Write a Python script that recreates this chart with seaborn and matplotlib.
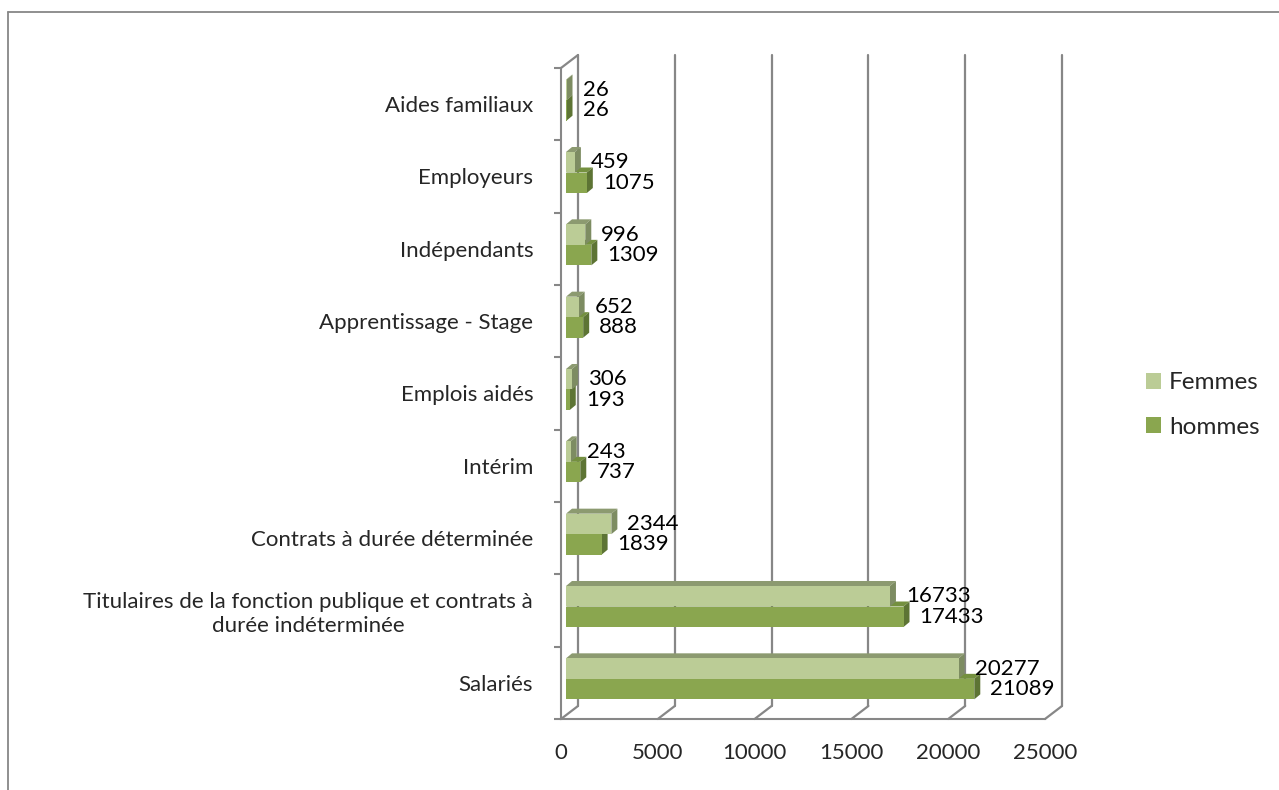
import matplotlib
matplotlib.use("Agg")
import matplotlib.pyplot as plt
import seaborn as sns
import pandas as pd
import numpy as np
from matplotlib.patches import Polygon, Patch
from matplotlib.lines import Line2D
from matplotlib.transforms import IdentityTransform, ScaledTranslation

# ---- data -------------------------------------------------------------
categories = [
    "Aides familiaux",
    "Employeurs",
    "Indépendants",
    "Apprentissage - Stage",
    "Emplois aidés",
    "Intérim",
    "Contrats à durée déterminée",
    "Titulaires de la fonction publique et contrats à\ndurée indéterminée",
    "Salariés",
]
femmes = [26, 459, 996, 652, 306, 243, 2344, 16733, 20277]
hommes = [26, 1075, 1309, 888, 193, 737, 1839, 17433, 21089]
series = ["Femmes", "hommes"]
x_ticks = [0, 5000, 10000, 15000, 20000, 25000]

# ---- style ------------------------------------------------------------
W, H = 1279, 790
sns.set_style("white")
plt.rcParams["font.family"] = ["Lato", "DejaVu Sans"]
FS = 16
FS_LEG = 17.5
GRID = "#878787"

F_FRONT, F_TOP, F_SIDE = "#BBCC96", "#8C9A70", "#7D8C62"
H_FRONT, H_TOP, H_SIDE = "#8AA64F", "#74903F", "#5D7434"

BAR_SHIFT = (5, 4)      # bars sit slightly behind the front plane (px)
BAR_DEPTH = (6, 5)      # extrusion of each bar (px)
WALL_DEPTH = (17, 13)   # back wall offset (px)

fig = plt.figure(figsize=(W / 100, H / 100), dpi=100)
ax = fig.add_axes([561 / W, (H - 719) / H, (1045 - 561) / W, (719 - 68) / H])

df = pd.DataFrame({
    "categorie": categories * 2,
    "valeur": femmes + hommes,
    "serie": [series[0]] * len(categories) + [series[1]] * len(categories),
})

sns.barplot(data=df, y="categorie", x="valeur", hue="serie", hue_order=series,
            order=categories, orient="h", width=0.567, palette=[F_FRONT, H_FRONT],
            saturation=1, linewidth=0, legend=False, ax=ax)

ax.set_xlim(0, 25000)
ax.set_ylim(len(categories) - 0.5, -0.5)
ax.set_xlabel("")
ax.set_ylabel("")
ax.set_xticks(x_ticks)
ax.set_xticklabels([str(v) for v in x_ticks], fontsize=FS)
ax.set_yticks(range(len(categories)))
ax.set_yticklabels(categories, fontsize=FS)
for lbl in ax.get_yticklabels():
    lbl.set_multialignment("center")
ax.set_yticks(np.arange(-0.5, len(categories)), minor=True)
ax.tick_params(axis="x", which="major", length=6, width=1.5, color=GRID, pad=11)
ax.tick_params(axis="y", which="major", length=0, pad=20)
ax.tick_params(axis="y", which="minor", length=5, width=1.5, color=GRID, left=True)
for side in ("top", "right"):
    ax.spines[side].set_visible(False)
for side in ("left", "bottom"):
    ax.spines[side].set_color(GRID)
    ax.spines[side].set_linewidth(1.5)
ax.grid(False)
ax.set_facecolor("none")

# ---- back wall, gridlines and floor diagonals -------------------------
to_disp = ax.transData.transform
ident = IdentityTransform()
wx, wy = WALL_DEPTH
y_lo, y_hi = ax.get_ylim()
for v in x_ticks:
    (xb, yb), (_, yt) = to_disp([(v, y_lo), (v, y_hi)])
    ax.add_line(Line2D([xb + wx, xb + wx], [yb + wy, yt + wy], transform=ident,
                       color=GRID, lw=1.6, clip_on=False, zorder=0.5))
    ax.add_line(Line2D([xb, xb + wx], [yb, yb + wy], transform=ident,
                       color=GRID, lw=1.6, clip_on=False, zorder=0.5))
(x0, ytop), = to_disp([(0, y_hi)])
ax.add_line(Line2D([x0, x0 + wx], [ytop, ytop + wy], transform=ident,
                   color=GRID, lw=1.6, clip_on=False, zorder=0.5))

# ---- extruded bars ----------------------------------------------------
sx, sy = BAR_SHIFT
dx, dy = BAR_DEPTH
shift = ScaledTranslation(sx / 100, sy / 100, fig.dpi_scale_trans)

bars = {}
for p in ax.patches:
    yc = p.get_y() + p.get_height() / 2
    idx = int(round(yc))
    key = series[0] if yc < idx else series[1]
    bars[(key, idx)] = p

z_base = {series[1]: 2, series[0]: 3}
face_cols = {series[0]: (F_TOP, F_SIDE), series[1]: (H_TOP, H_SIDE)}
for (key, idx), p in bars.items():
    p.set_transform(ax.transData + shift)
    p.set_clip_on(False)
    z = z_base[key] + idx * 0.01
    p.set_zorder(z + 0.002)
    x_a, y_a = p.get_x(), p.get_y()
    (px0, py0), (px1, py1) = to_disp([(x_a, y_a), (x_a + p.get_width(), y_a + p.get_height())])
    xl, xr = min(px0, px1) + sx, max(px0, px1) + sx
    yb, yt = min(py0, py1) + sy, max(py0, py1) + sy
    top_c, side_c = face_cols[key]
    top = Polygon([(xl, yt), (xr, yt), (xr + dx, yt + dy), (xl + dx, yt + dy)],
                  closed=True, transform=ident, facecolor=top_c, edgecolor="none",
                  clip_on=False, zorder=z)
    side = Polygon([(xr, yb), (xr, yt), (xr + dx, yt + dy), (xr + dx, yb + dy)],
                   closed=True, transform=ident, facecolor=side_c, edgecolor="none",
                   clip_on=False, zorder=z + 0.001)
    ax.add_patch(top)
    ax.add_patch(side)

# ---- value labels -----------------------------------------------------
for key, values in zip(series, [femmes, hommes]):
    for idx, val in enumerate(values):
        p = bars[(key, idx)]
        ax.annotate(f"{val}", xy=(val, p.get_y() + p.get_height() / 2),
                    xytext=(sx + dx + 10, sy), textcoords="offset pixels",
                    ha="left", va="center", fontsize=FS, color="black",
                    annotation_clip=False, zorder=10)

# ---- legend -----------------------------------------------------------
handles = [Patch(facecolor=F_FRONT, edgecolor="none", label=series[0]),
           Patch(facecolor=H_FRONT, edgecolor="none", label=series[1])]
fig.legend(handles=handles, loc="center left", bbox_to_anchor=(1146 / W, 1 - 405 / H),
           frameon=False, fontsize=FS_LEG, handlelength=0.62, handleheight=0.62,
           handletextpad=0.33, labelspacing=0.95, borderpad=0, borderaxespad=0)

# ---- chart area border (top and left edges) ---------------------------
fig.add_artist(Line2D([8 / W, 1], [1 - 12 / H, 1 - 12 / H], transform=fig.transFigure,
                      color=GRID, lw=1.3))
fig.add_artist(Line2D([8 / W, 8 / W], [0, 1 - 12 / H], transform=fig.transFigure,
                      color=GRID, lw=1.3))

fig.savefig("out.png", dpi=100)
